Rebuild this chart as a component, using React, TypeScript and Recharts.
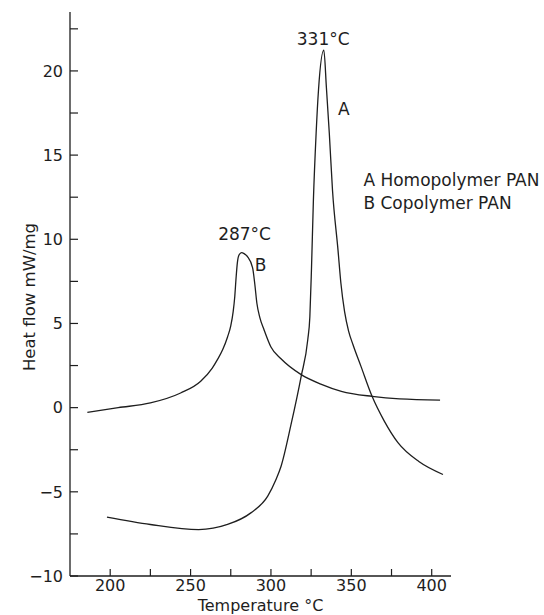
import React from 'react';
import { LineChart, Line, XAxis, YAxis, ReferenceDot, Label } from 'recharts';

// DSC curves (temperature °C, heat flow mW/mg)
const tempA = [198, 225, 255, 273, 287.5, 298, 303, 306.3, 312.5, 318.8, 322.9, 324.2, 325.2, 326.4, 328.1, 329.6, 332.9, 334.5, 336.3, 338.3, 341.7, 343.5, 345.8, 348.3, 351, 356, 362.9, 370.5, 379, 392, 407];
const heatA = [-6.5, -6.94, -7.24, -6.94, -6.25, -5.26, -4.3, -3.48, -1.0, 1.86, 4.03, 5.4, 8.2, 12.3, 16.3, 18.9, 21.23, 19.0, 16.3, 12.9, 9.37, 7.4, 5.7, 4.55, 3.75, 2.45, 0.67, -0.8, -2.08, -3.2, -3.97];

const tempB = [185.8, 205, 225, 243.8, 256.3, 263.5, 266.7, 270, 273, 275, 276.5, 277.5, 278.3, 279.1, 280.2, 281.7, 283.3, 285.4, 288.6, 290, 291.25, 293.1, 295.8, 300, 306.25, 318.8, 331, 343.8, 362.9, 380, 405.2];
const heatB = [-0.28, 0, 0.28, 0.87, 1.57, 2.35, 2.85, 3.45, 4.2, 4.85, 5.7, 6.6, 7.7, 8.6, 9.08, 9.21, 9.15, 8.97, 8.3, 7.3, 6.2, 5.35, 4.6, 3.6, 2.9, 1.96, 1.4, 0.97, 0.67, 0.52, 0.45];

const seriesNames = ['A Homopolymer PAN', 'B Copolymer PAN'];
const xTicks = [200, 225, 250, 275, 300, 325, 350, 375, 400];
const yTicks = [-10, -7.5, -5, -2.5, 0, 2.5, 5, 7.5, 10, 12.5, 15, 17.5, 20, 22.5];

// text notes on the plot, placed in data units
const notes = [
  { t: 332.5, h: 21.9, text: '331°C', pos: 'center' },
  { t: 345.3, h: 17.73, text: 'A', pos: 'center' },
  { t: 283.6, h: 10.32, text: '287°C', pos: 'center' },
  { t: 293.6, h: 8.48, text: 'B', pos: 'center' },
  { t: 357.5, h: 13.55, text: seriesNames[0], pos: 'right' },
  { t: 357.5, h: 12.15, text: seriesNames[1], pos: 'right' },
];

const FONT = '"DejaVu Sans", sans-serif';
const INK = '#1e1e1e';
const minus = (v: number) => String(v).replace('-', '\u2212');

export default function App() {
  const dataA = tempA.map((t, i) => ({ t, h: heatA[i] }));
  const dataB = tempB.map((t, i) => ({ t, h: heatB[i] }));
  const tickStyle = { fill: INK, fontSize: 16, fontFamily: FONT };

  return (
    <div style={{ position: 'absolute', left: 0, top: 0, width: 544, height: 615, background: '#fff' }}>
      <LineChart width={544} height={615} margin={{ top: 12, right: 93, bottom: 0, left: 0 }}>
        <XAxis
          type="number"
          dataKey="t"
          domain={[175, 412]}
          allowDataOverflow
          ticks={xTicks}
          interval={0}
          tickFormatter={(v: number) => (v % 50 === 0 ? String(v) : '')}
          height={39}
          tickSize={-7}
          tickMargin={11}
          axisLine={{ stroke: INK, strokeWidth: 1.3 }}
          tickLine={{ stroke: INK, strokeWidth: 1.2 }}
          tick={tickStyle}
        >
          <Label value="Temperature °C" position="insideBottom" offset={4} fill={INK} fontSize={16} fontFamily={FONT} />
        </XAxis>
        <YAxis
          type="number"
          domain={[-10, 23.5]}
          allowDataOverflow
          ticks={yTicks}
          interval={0}
          tickFormatter={(v: number) => (v % 5 === 0 ? minus(v) : '')}
          width={70}
          tickSize={-8}
          tickMargin={15}
          axisLine={{ stroke: INK, strokeWidth: 1.3 }}
          tickLine={{ stroke: INK, strokeWidth: 1.2 }}
          tick={tickStyle}
        >
          <Label
            value="Heat flow mW/mg"
            angle={-90}
            position="insideLeft"
            offset={29}
            dy={3}
            style={{ textAnchor: 'middle' }}
            fill={INK}
            fontSize={16.5}
            fontFamily={FONT}
          />
        </YAxis>
        <Line data={dataA} dataKey="h" name={seriesNames[0]} type="monotone" dot={false} stroke={INK} strokeWidth={1.3} isAnimationActive={false} />
        <Line data={dataB} dataKey="h" name={seriesNames[1]} type="monotone" dot={false} stroke={INK} strokeWidth={1.3} isAnimationActive={false} />
        {notes.map((n) => (
          <ReferenceDot
            key={n.text}
            x={n.t}
            y={n.h}
            r={0}
            fill="none"
            stroke="none"
            label={{ value: n.text, position: n.pos, offset: 0, fill: INK, fontSize: 17, fontFamily: FONT }}
          />
        ))}
      </LineChart>
    </div>
  );
}
